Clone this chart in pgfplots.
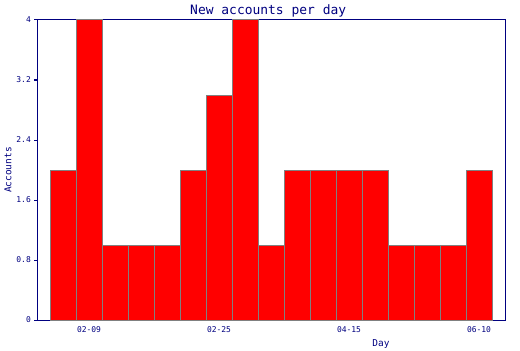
\documentclass[border=0pt]{standalone}
\usepackage{fontspec}
\setmonofont{DejaVu Sans Mono}
\usepackage{pgfplots}
\pgfplotsset{compat=1.18}
\definecolor{navyc}{RGB}{0,0,128}
\definecolor{edgec}{RGB}{128,128,128}
\begin{document}
\begin{tikzpicture}[x=1bp,y=1bp]
\path[use as bounding box] (0,0) rectangle (520,350);
\begin{axis}[
  at={(37bp,30bp)}, anchor=south west,
  scale only axis, width=468bp, height=300bp,
  xmin=-1, xmax=17, ymin=0, ymax=4,
  axis line style={navyc, line width=1bp},
  ytick={0,0.8,1.6,2.4,3.2,4},
  yticklabels={0,0.8,1.6,2.4,3.2,4},
  xtick={1,6,11,16},
  xticklabels={02-09,02-25,04-15,06-10},
  ytick pos=left, xtick pos=bottom,
  tick align=outside,
  major tick length=3bp,
  ytick style={navyc, line width=1bp},
  xtick style={draw=none},
  tick label style={font=\ttfamily\fontsize{8}{9}\selectfont, text=navyc},
  yticklabel style={inner sep=0pt, xshift=-3bp},
  xticklabel style={inner sep=0pt, yshift=-3bp},
  title={New accounts per day},
  title style={font=\ttfamily\fontsize{13}{15}\selectfont, text=navyc, at={(axis description cs:0.494,1)}, anchor=base, inner sep=0pt, yshift=0bp},
  xlabel={Day},
  xlabel style={font=\ttfamily\fontsize{9.5}{11}\selectfont, text=navyc, at={(axis description cs:0.735,-0.08)}, anchor=center, inner sep=0pt},
  ylabel={Accounts},
  ylabel style={font=\ttfamily\fontsize{9.5}{11}\selectfont, text=navyc, at={(axis description cs:-0.062,0.5)}, anchor=center, inner sep=0pt},
  ybar, bar width=1,
]
\addplot[fill=red, draw=edgec, line width=1bp] coordinates {
(0,2) (1,4) (2,1) (3,1) (4,1) (5,2) (6,3) (7,4) (8,1) (9,2) (10,2) (11,2) (12,2) (13,1) (14,1) (15,1) (16,2)
};
\end{axis}
\end{tikzpicture}
\end{document}
